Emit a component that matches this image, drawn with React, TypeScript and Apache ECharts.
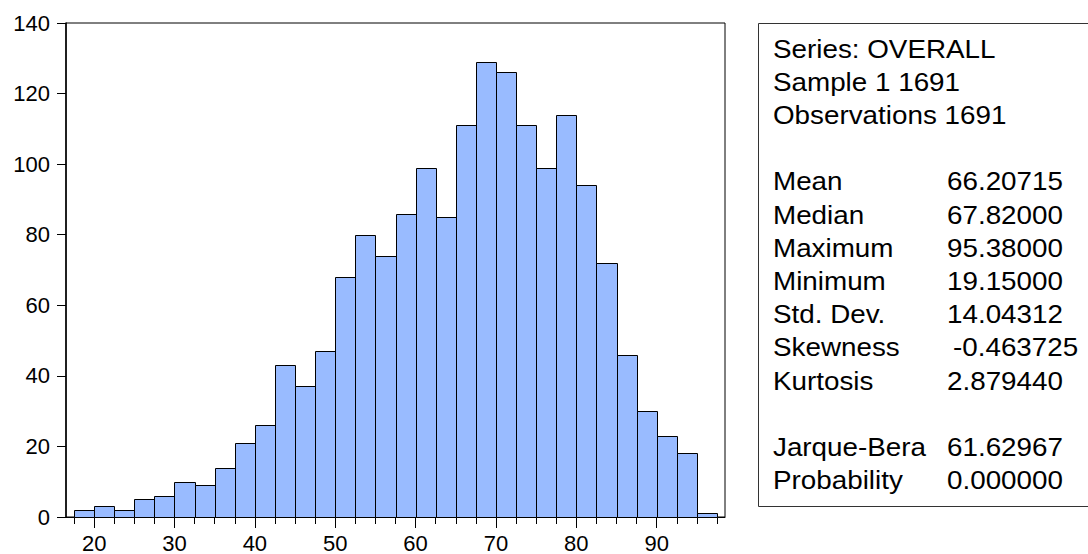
import React, { useEffect, useRef } from "react";
import * as echarts from "echarts";

// Histogram bins (lower edge) and counts
const binLower = [
  17.5, 20, 22.5, 25, 27.5, 30, 32.5, 35, 37.5, 40, 42.5, 45, 47.5, 50, 52.5, 55,
  57.5, 60, 62.5, 65, 67.5, 70, 72.5, 75, 77.5, 80, 82.5, 85, 87.5, 90, 92.5, 95,
];
const binWidth = 2.5;
const counts = [
  2, 3, 2, 5, 6, 10, 9, 14, 21, 26, 43, 37, 47, 68, 80, 74,
  86, 99, 85, 111, 129, 126, 111, 99, 114, 94, 72, 46, 30, 23, 18, 1,
];

const xMajorTicks = [20, 30, 40, 50, 60, 70, 80, 90];
const xMinorTicks = [
  17.5, 20, 22.5, 25, 27.5, 30, 32.5, 35, 37.5, 40, 42.5, 45, 47.5, 50, 52.5, 55,
  57.5, 60, 62.5, 65, 67.5, 70, 72.5, 75, 77.5, 80, 82.5, 85, 87.5, 90, 92.5, 95, 97.5,
];

const statLabels = [
  "Series: OVERALL",
  "Sample 1 1691",
  "Observations 1691",
  "",
  "Mean",
  "Median",
  "Maximum",
  "Minimum",
  "Std. Dev.",
  "Skewness",
  "Kurtosis",
  "",
  "Jarque-Bera",
  "Probability",
];
const statValues = [
  "", "", "", "",
  "66.20715",
  "67.82000",
  "95.38000",
  "19.15000",
  "14.04312",
  "-0.463725",
  "2.879440",
  "",
  "61.62967",
  "0.000000",
];

const FONT = "'Liberation Sans', Arial, 'DejaVu Sans', sans-serif";

export default function App() {
  const ref = useRef<HTMLDivElement>(null);

  useEffect(() => {
    document.body.style.margin = "0";
    const el = ref.current;
    if (!el) return;
    const chart = echarts.init(el, undefined, { renderer: "svg" });

    const data = binLower.map((lo, i) => [lo, lo + binWidth, counts[i]]);

    const statTexts: any[] = [];
    statLabels.forEach((s, i) => {
      const y = 49 + i * 33.2;
      if (s) {
        statTexts.push({
          type: "text",
          x: 773,
          y,
          scaleX: 1.07,
          style: {
            text: s,
            fill: "#000",
            font: `26px ${FONT}`,
            textAlign: "left",
            textVerticalAlign: "middle",
          },
        });
      }
      const v = statValues[i];
      if (v) {
        statTexts.push({
          type: "text",
          x: v.startsWith("-") ? 953 : 947,
          y,
          scaleX: 1.07,
          style: {
            text: v,
            fill: "#000",
            font: `26px ${FONT}`,
            textAlign: "left",
            textVerticalAlign: "middle",
          },
        });
      }
    });

    const option: any = {
      animation: false,
      backgroundColor: "#fff",
      textStyle: { fontFamily: FONT },
      grid: {
        left: 66,
        top: 23,
        width: 659,
        height: 494,
        show: true,
        borderColor: "#000",
        borderWidth: 1,
        backgroundColor: "#fff",
        outerBoundsMode: "none",
      },
      xAxis: [
        {
          type: "value",
          position: "bottom",
          min: 16.5,
          max: 98.5,
          splitLine: { show: false },
          axisLine: { show: true, onZero: false, lineStyle: { color: "#000", width: 1 } },
          axisTick: {
            show: true,
            length: 7,
            customValues: xMinorTicks,
            lineStyle: { color: "#000", width: 1 },
          },
          axisLabel: { show: false },
        },
        {
          type: "value",
          position: "bottom",
          min: 16.5,
          max: 98.5,
          splitLine: { show: false },
          axisLine: { show: false },
          axisTick: {
            show: true,
            length: 11,
            customValues: xMajorTicks,
            lineStyle: { color: "#000", width: 1 },
          },
          axisLabel: {
            show: true,
            customValues: xMajorTicks,
            margin: 17,
            lineHeight: 18,
            color: "#000",
            fontSize: 22,
            fontFamily: FONT,
          },
        },
      ],
      yAxis: {
        type: "value",
        min: 0,
        max: 140,
        interval: 20,
        splitLine: { show: false },
        axisLine: { show: true, lineStyle: { color: "#000", width: 1.5 } },
        axisTick: { show: true, length: 9, lineStyle: { color: "#000", width: 1 } },
        axisLabel: { color: "#000", fontSize: 22, margin: 16, fontFamily: FONT },
      },
      series: [
        {
          type: "custom",
          xAxisIndex: 0,
          yAxisIndex: 0,
          data,
          encode: { x: [0, 1], y: 2 },
          renderItem: (params: any, api: any) => {
            const lo = api.value(0);
            const hi = api.value(1);
            const c = api.value(2);
            const p0 = api.coord([lo, c]);
            const p1 = api.coord([hi, 0]);
            const x0 = Math.round(p0[0]) + 0.5;
            const x1 = Math.round(p1[0]) + 0.5;
            const y0 = Math.round(p0[1]) + 0.5;
            const y1 = Math.round(p1[1]) + 0.5;
            return {
              type: "rect",
              shape: { x: x0, y: y0, width: x1 - x0, height: y1 - y0 },
              style: { fill: "#99bbff", stroke: "#000", lineWidth: 1 },
            };
          },
        },
      ],
      graphic: [
        {
          type: "rect",
          shape: { x: 758.5, y: 23.5, width: 340, height: 483 },
          style: { fill: "#fff", stroke: "#333", lineWidth: 1 },
        },
        ...statTexts,
      ],
    };

    chart.setOption(option);
    return () => chart.dispose();
  }, []);

  return <div ref={ref} style={{ width: 1088, height: 554 }} />;
}
